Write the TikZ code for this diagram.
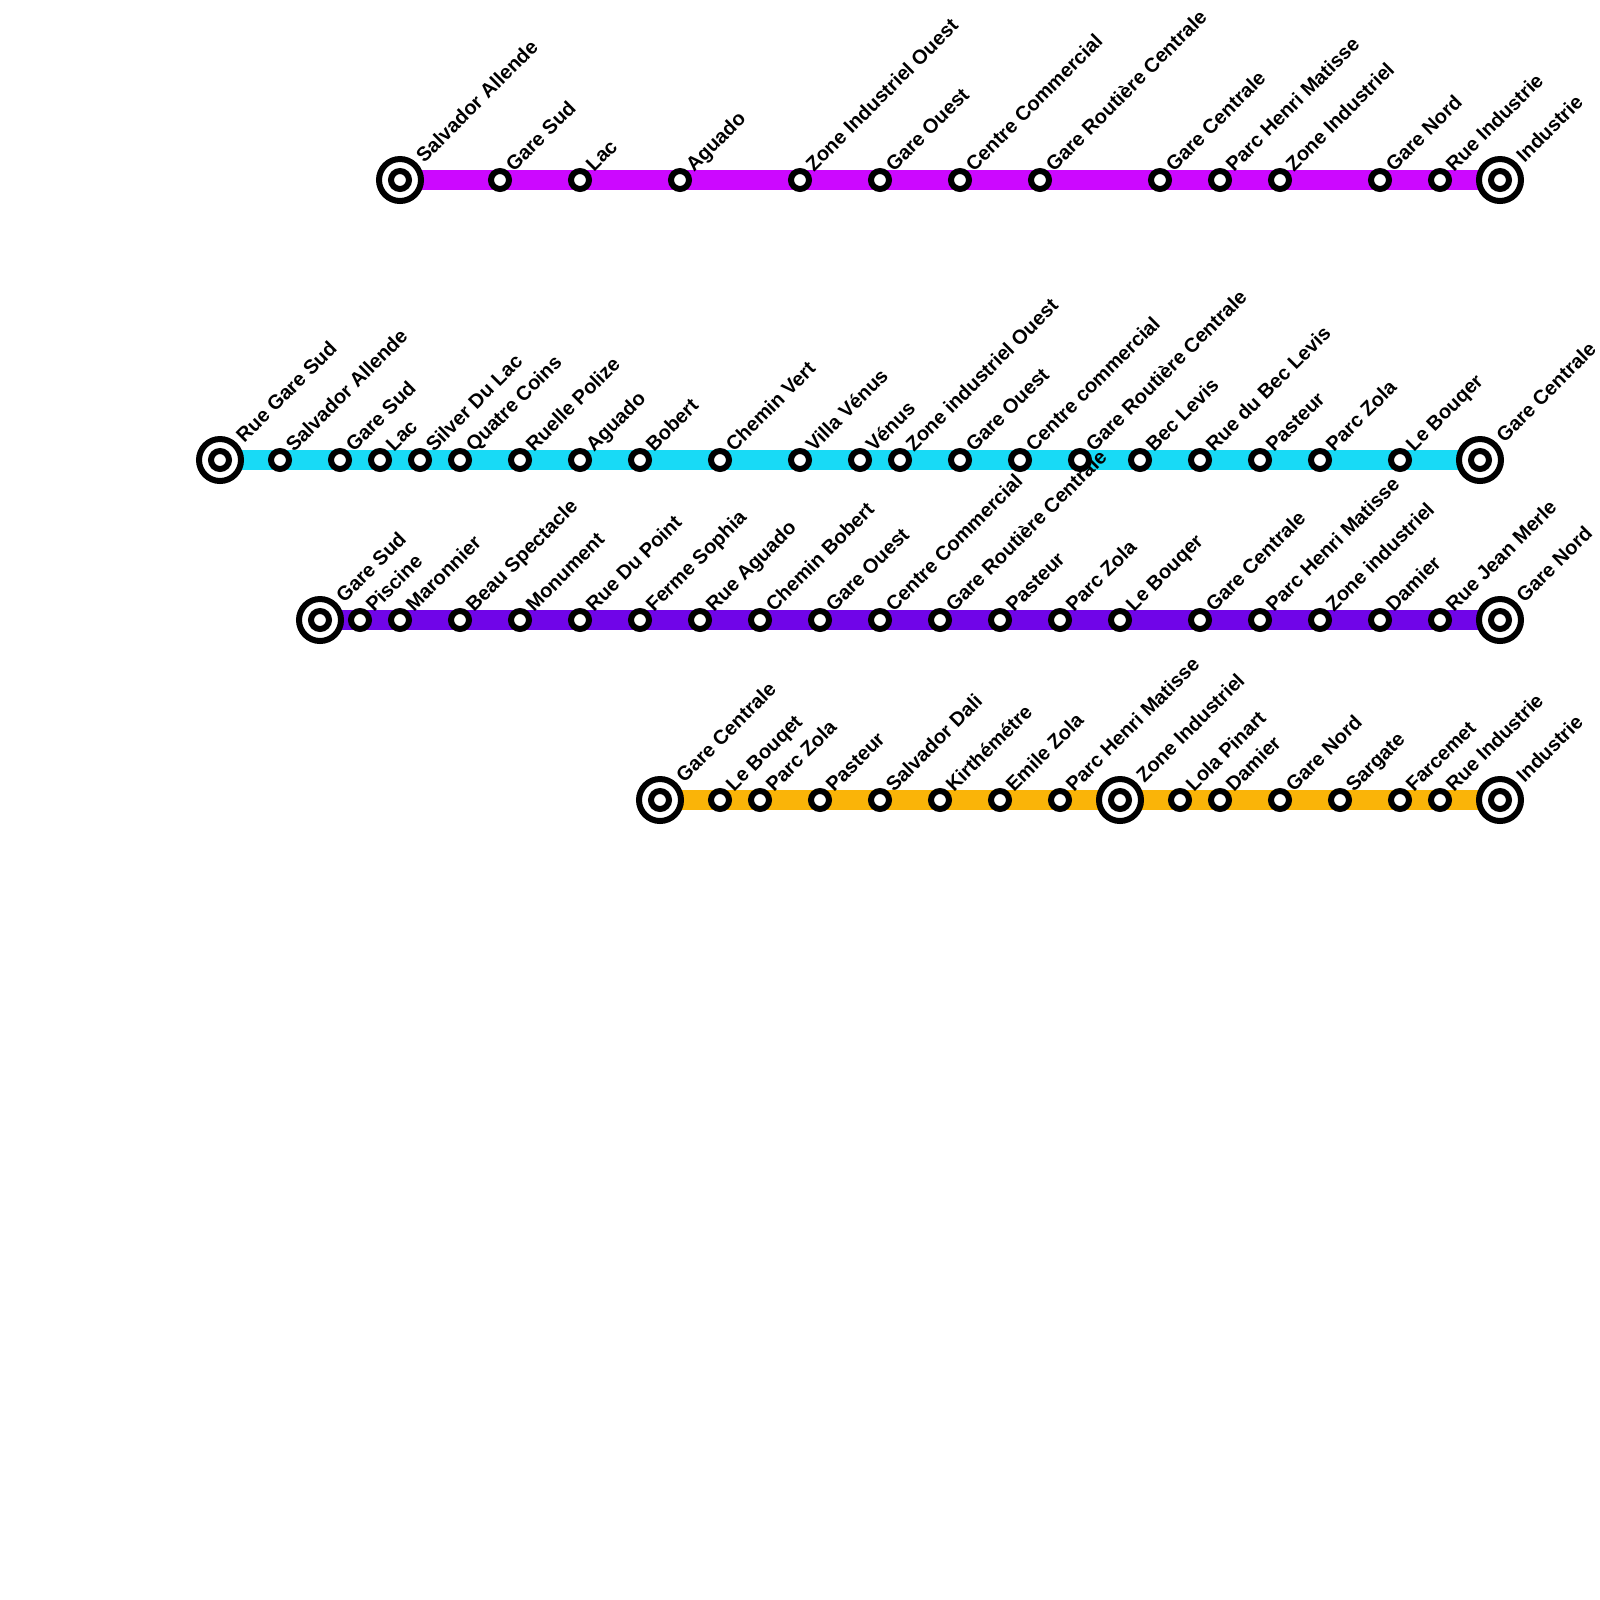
\documentclass[tikz,border=0pt]{standalone}
\usepackage{fontspec}
\setmainfont{Liberation Sans}
\usetikzlibrary{backgrounds}
\definecolor{lineA}{RGB}{204,8,255}
\definecolor{lineB}{RGB}{24,218,246}
\definecolor{lineC}{RGB}{112,5,232}
\definecolor{lineD}{RGB}{250,180,8}
\tikzset{
    station/.style={circle, draw=black, fill=white, line width=0.06cm, minimum size=0.18cm, inner sep=0pt, outer sep=0pt},
    terminus/.style={circle, draw=black, fill=white, line width=0.06cm, minimum size=0.42cm, inner sep=0pt, outer sep=0pt},
    stationname/.style={rotate=45, anchor=base west, inner sep=0pt, font=\bfseries\fontsize{5.69}{7}\selectfont},
    route/.style={line width=0.2cm}
}
\begin{document}
\begin{tikzpicture}[x=0.2cm,y=-0.2cm]
    % Same Bounding Box
    \useasboundingbox (0,0) rectangle (80,80);

    % Line A
    \foreach \xpos/\stname in {25/Gare Sud, 29/Lac, 34/Aguado, 40/Zone Industriel Ouest, 44/Gare Ouest, 48/Centre Commercial, 52/Gare Routière Centrale, 58/Gare Centrale, 61/Parc Henri Matisse, 64/Zone Industriel, 69/Gare Nord, 72/Rue Industrie} {
        \node[station] (a\xpos) at (\xpos,9) {};
        \node[stationname] (na\xpos) at (\xpos+0.68,8.65) {\stname};
    }
    \foreach \xpos/\stname in {20/Salvador Allende, 75/Industrie} {
        \node[terminus] (a\xpos) at (\xpos,9) {};
        \node[station] (ia\xpos) at (\xpos,9) {};
        \node[stationname] (na\xpos) at (\xpos+1.2,8.2) {\stname};
    }
    \begin{scope}[on background layer]
        \draw[route, lineA] (a20) -- (a75);
    \end{scope}

    % Line B
    \foreach \xpos/\stname in {14/Salvador Allende, 17/Gare Sud, 19/Lac, 21/Silver Du Lac, 23/Quatre Coins, 26/Ruelle Polize, 29/Aguado, 32/Bobert, 36/Chemin Vert, 40/Villa Vénus, 43/Vénus, 45/Zone industriel Ouest, 48/Gare Ouest, 51/Centre commercial, 54/Gare Routière Centrale, 57/Bec Levis, 60/Rue du Bec Levis, 63/Pasteur, 66/Parc Zola, 70/Le Bouqer} {
        \node[station] (b\xpos) at (\xpos,23) {};
        \node[stationname] (nb\xpos) at (\xpos+0.68,22.65) {\stname};
    }
    \foreach \xpos/\stname in {11/Rue Gare Sud, 74/Gare Centrale} {
        \node[terminus] (b\xpos) at (\xpos,23) {};
        \node[station] (ib\xpos) at (\xpos,23) {};
        \node[stationname] (nb\xpos) at (\xpos+1.2,22.2) {\stname};
    }
    \begin{scope}[on background layer]
        \draw[route, lineB] (b11) -- (b74);
    \end{scope}

    % Line C
    \foreach \xpos/\stname in {18/Piscine, 20/Maronnier, 23/Beau Spectacle, 26/Monument, 29/Rue Du Point, 32/Ferme Sophia, 35/Rue Aguado, 38/Chemin Bobert, 41/Gare Ouest, 44/Centre Commercial, 47/Gare Routière Centrale, 50/Pasteur, 53/Parc Zola, 56/Le Bouqer, 60/Gare Centrale, 63/Parc Henri Matisse, 66/Zone industriel, 69/Damier, 72/Rue Jean Merle} {
        \node[station] (c\xpos) at (\xpos,31) {};
        \node[stationname] (nc\xpos) at (\xpos+0.68,30.65) {\stname};
    }
    \foreach \xpos/\stname in {16/Gare Sud, 75/Gare Nord} {
        \node[terminus] (c\xpos) at (\xpos,31) {};
        \node[station] (ic\xpos) at (\xpos,31) {};
        \node[stationname] (nc\xpos) at (\xpos+1.2,30.2) {\stname};
    }
    \begin{scope}[on background layer]
        \draw[route, lineC] (c16) -- (c75);
    \end{scope}

    % Line D
    \foreach \xpos/\stname in {36/Le Bouqet, 38/Parc Zola, 41/Pasteur, 44/Salvador Dali, 47/Kirthémétre, 50/Emile Zola, 53/Parc Henri Matisse, 59/Lola Pinart, 61/Damier, 64/Gare Nord, 67/Sargate, 70/Farcemet, 72/Rue Industrie} {
        \node[station] (d\xpos) at (\xpos,40) {};
        \node[stationname] (nd\xpos) at (\xpos+0.68,39.65) {\stname};
    }
    \foreach \xpos/\stname in {33/Gare Centrale, 56/Zone Industriel, 75/Industrie} {
        \node[terminus] (d\xpos) at (\xpos,40) {};
        \node[station] (id\xpos) at (\xpos,40) {};
        \node[stationname] (nd\xpos) at (\xpos+1.2,39.2) {\stname};
    }
    \begin{scope}[on background layer]
        \draw[route, lineD] (d33) -- (d75);
    \end{scope}
\end{tikzpicture}
\end{document}
